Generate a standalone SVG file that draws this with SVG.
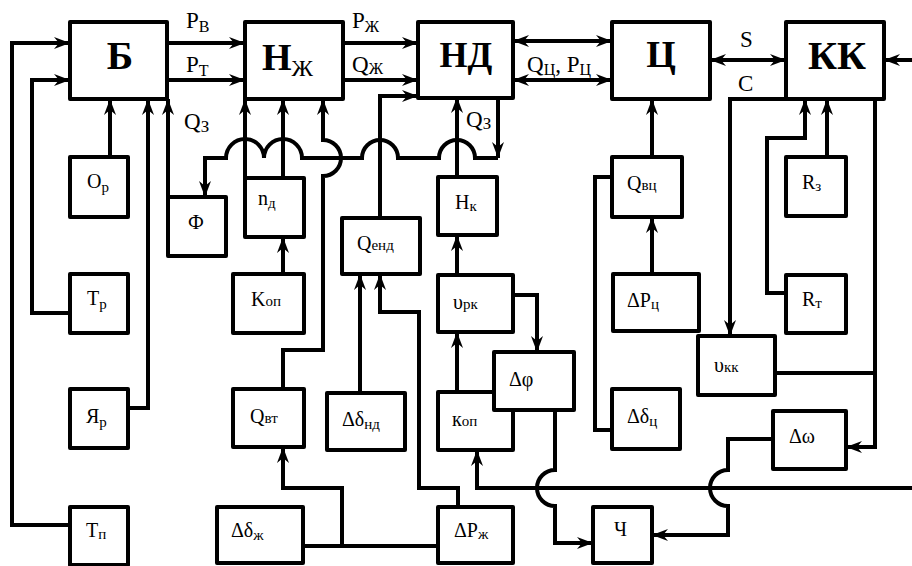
<svg xmlns="http://www.w3.org/2000/svg" width="912" height="566" viewBox="0 0 912 566">
<style>
.b{fill:#fff;stroke:#000;stroke-width:4;stroke-linejoin:round}
.c{fill:none;stroke:#000;stroke-width:4;stroke-linejoin:miter}
.big{font-weight:bold}
.s{font-size:20px}
.l{font-size:23px}
</style>
<defs>
<marker id="a" markerWidth="18" markerHeight="14" refX="16" refY="7" orient="auto" markerUnits="userSpaceOnUse"><path d="M0,1 L16,7 L0,13 L5,7 Z" fill="#000"/></marker>
<marker id="d" markerWidth="18" markerHeight="14" refX="16" refY="7" orient="auto-start-reverse" markerUnits="userSpaceOnUse"><path d="M0,1 L16,7 L0,13 L5,7 Z" fill="#000"/></marker>
</defs>
<rect width="912" height="566" fill="#fff"/>

<g id="connectors">
<path class="c" d="M70,525 H12 V43 H70" marker-end="url(#a)"/>
<path class="c" d="M70,313 H32 V80 H70" marker-end="url(#a)"/>
<path class="c" d="M110,157 V99" marker-end="url(#a)"/>
<path class="c" d="M128,408 H148 V99" marker-end="url(#a)"/>
<path class="c" d="M168,197 V99" marker-end="url(#a)"/>
<path class="c" d="M167,43 H245" marker-end="url(#a)"/>
<path class="c" d="M167,80 H245" marker-end="url(#a)"/>
<path class="c" d="M343,43 H418" marker-end="url(#a)"/>
<path class="c" d="M343,80 H418" marker-end="url(#a)"/>
<path class="c" d="M380,218 V96 H418" marker-end="url(#a)"/>
<path class="c" d="M513,41 H612" marker-start="url(#d)" marker-end="url(#d)"/>
<path class="c" d="M513,80 H612" marker-start="url(#d)" marker-end="url(#d)"/>
<path class="c" d="M710,60 H786" marker-start="url(#d)" marker-end="url(#d)"/>
<path class="c" d="M912,60 H884" marker-end="url(#a)"/>
<path class="c" d="M498,97 V158" marker-end="url(#a)"/>
<path class="c" d="M498,158 H475 A18,18 0 0 0 439,158 H398 A18,18 0 0 0 362,158 H302 A19,19 0 0 0 264,158 A19,19 0 0 0 226,158 H205 V197" marker-end="url(#a)"/>
<path class="c" d="M245,178 V99" marker-end="url(#a)"/>
<path class="c" d="M283,178 V99" marker-end="url(#a)"/>
<path class="c" d="M283,274 V237" marker-end="url(#a)"/>
<path class="c" d="M283,389 V350 H323 V176 A18,18 0 0 0 323,140 V99" marker-end="url(#a)"/>
<path class="c" d="M303,546 H438"/>
<path class="c" d="M342,546 V488 H283 V447" marker-end="url(#a)"/>
<path class="c" d="M458,507 V488 H419 V312 H380 V274" marker-end="url(#a)"/>
<path class="c" d="M360,393 V274" marker-end="url(#a)"/>
<path class="c" d="M457,177 V97" marker-end="url(#a)"/>
<path class="c" d="M457,275 V235" marker-end="url(#a)"/>
<path class="c" d="M457,392 V332" marker-end="url(#a)"/>
<path class="c" d="M513,295 H537 V352" marker-end="url(#a)"/>
<path class="c" d="M912,488 H477 V450" marker-end="url(#a)"/>
<path class="c" d="M555,410 V470 A18,18 0 0 0 555,506 V543 H593" marker-end="url(#a)"/>
<path class="c" d="M773,439 H728 V470 A18,18 0 0 0 728,506 V535 H652" marker-end="url(#a)"/>
<path class="c" d="M652,157 V99" marker-end="url(#a)"/>
<path class="c" d="M652,274 V217" marker-end="url(#a)"/>
<path class="c" d="M612,177 H595 V430 H612"/>
<path class="c" d="M786,99 H730 V336" marker-end="url(#a)"/>
<path class="c" d="M827,157 V99" marker-end="url(#a)"/>
<path class="c" d="M786,293 H767 V138 H805 V99" marker-end="url(#a)"/>
<path class="c" d="M875,99 V447 H846" marker-end="url(#a)"/>
<path class="c" d="M775,373 H875"/>
</g>

<g id="labels" font-family="Liberation Serif, serif">
<g id="conn-labels" class="l">
<text x="186" y="28">P<tspan font-size="16" dy="4">В</tspan></text>
<text x="186" y="72">P<tspan font-size="16" dy="4">Т</tspan></text>
<text x="184" y="129">Q<tspan font-size="17" dy="3">З</tspan></text>
<text x="352" y="28">P<tspan font-size="16" dy="4">Ж</tspan></text>
<text x="352" y="72">Q<tspan font-size="16" dy="2">Ж</tspan></text>
<text x="527" y="72">Q<tspan font-size="16" dy="3">Ц</tspan><tspan dy="-3">, P</tspan><tspan font-size="16" dy="3">Ц</tspan></text>
<text x="466" y="127">Q<tspan font-size="17" dy="2">З</tspan></text>
<text x="740" y="47">S</text>
<text x="738" y="91">C</text>
</g>

<g id="n-B"><rect class="b" x="70" y="22" width="97" height="77"/><text class="big" x="120" y="69" font-size="40" text-anchor="middle">Б</text></g>
<g id="n-Nzh"><rect class="b" x="245" y="22" width="98" height="77"/><text class="big" x="262" y="70" font-size="38">Н<tspan font-size="24" font-weight="normal" dy="6">Ж</tspan></text></g>
<g id="n-ND"><rect class="b" x="418" y="22" width="95" height="76"/><text class="big" x="466" y="67" font-size="36" text-anchor="middle">НД</text></g>
<g id="n-C"><rect class="b" x="612" y="22" width="98" height="77"/><text class="big" x="661" y="67" font-size="38" text-anchor="middle">Ц</text></g>
<g id="n-KK"><rect class="b" x="786" y="22" width="98" height="77"/><text class="big" x="837" y="69" font-size="40" text-anchor="middle">КК</text></g>

<g id="n-Or"><rect class="b" x="70" y="157" width="58" height="60"/><text class="s" x="87" y="188">O<tspan font-size="15" dy="4">р</tspan></text></g>
<g id="n-Tr"><rect class="b" x="70" y="274" width="58" height="59"/><text class="s" x="87" y="305">T<tspan font-size="15" dy="4">р</tspan></text></g>
<g id="n-Yar"><rect class="b" x="70" y="389" width="58" height="59"/><text class="s" x="86" y="423">Я<tspan font-size="15" dy="4">р</tspan></text></g>
<g id="n-Tp"><rect class="b" x="70" y="507" width="58" height="58"/><text class="s" x="86" y="537">T<tspan font-size="15" dy="2">п</tspan></text></g>
<g id="n-F"><rect class="b" x="168" y="197" width="58" height="59"/><text class="s" x="196" y="229" text-anchor="middle">Ф</text></g>
<g id="n-nd"><rect class="b" x="245" y="178" width="59" height="59"/><text class="s" x="258" y="205">n<tspan font-size="15" dy="3">д</tspan></text></g>
<g id="n-Kop1"><rect class="b" x="233" y="274" width="71" height="59"/><text class="s" x="251" y="306">K<tspan font-size="15">оп</tspan></text></g>
<g id="n-Qvt"><rect class="b" x="233" y="389" width="71" height="58"/><text class="s" x="250" y="423">Q<tspan font-size="15">вт</tspan></text></g>
<g id="n-Ddzh"><rect class="b" x="217" y="507" width="86" height="56"/><text class="s" x="231" y="537">Δδ<tspan font-size="15" dy="3">ж</tspan></text></g>
<g id="n-Qend"><rect class="b" x="342" y="218" width="78" height="56"/><text class="s" x="357" y="250">Q<tspan font-size="15">енд</tspan></text></g>
<g id="n-Ddnd"><rect class="b" x="327" y="393" width="78" height="57"/><text class="s" x="342" y="426">Δδ<tspan font-size="15" dy="3">нд</tspan></text></g>
<g id="n-Hk"><rect class="b" x="438" y="177" width="59" height="58"/><text class="s" x="455" y="209">H<tspan font-size="15" dy="2">к</tspan></text></g>
<g id="n-Urk"><rect class="b" x="438" y="275" width="75" height="57"/><text class="s" x="453" y="309">υ<tspan font-size="15">рк</tspan></text></g>
<g id="n-kop2"><rect class="b" x="438" y="392" width="75" height="58"/><text class="s" x="452" y="426">к<tspan font-size="15">оп</tspan></text></g>
<g id="n-Dphi"><rect class="b" x="494" y="352" width="80" height="58"/><text class="s" x="509" y="386">Δφ</text></g>
<g id="n-DPzh"><rect class="b" x="438" y="507" width="75" height="56"/><text class="s" x="454" y="537">ΔP<tspan font-size="15" dy="2">ж</tspan></text></g>
<g id="n-Qvc"><rect class="b" x="612" y="157" width="70" height="60"/><text class="s" x="627" y="190">Q<tspan font-size="15">вц</tspan></text></g>
<g id="n-DPc"><rect class="b" x="613" y="274" width="86" height="57"/><text class="s" x="627" y="307">ΔP<tspan font-size="15" dy="2">ц</tspan></text></g>
<g id="n-Ddc"><rect class="b" x="612" y="389" width="68" height="60"/><text class="s" x="627" y="423">Δδ<tspan font-size="15" dy="3">ц</tspan></text></g>
<g id="n-Rz"><rect class="b" x="786" y="157" width="60" height="59"/><text class="s" x="802" y="189">R<tspan font-size="15" dy="2">з</tspan></text></g>
<g id="n-Rt"><rect class="b" x="786" y="275" width="60" height="58"/><text class="s" x="802" y="306">R<tspan font-size="15" dy="2">т</tspan></text></g>
<g id="n-Ukk"><rect class="b" x="698" y="336" width="77" height="59"/><text class="s" x="714" y="372">υ<tspan font-size="15">кк</tspan></text></g>
<g id="n-Dw"><rect class="b" x="773" y="411" width="73" height="58"/><text class="s" x="789" y="443">Δω</text></g>
<g id="n-Ch"><rect class="b" x="593" y="507" width="59" height="56"/><text class="s" x="614" y="536">Ч</text></g>
</g>
</svg>
